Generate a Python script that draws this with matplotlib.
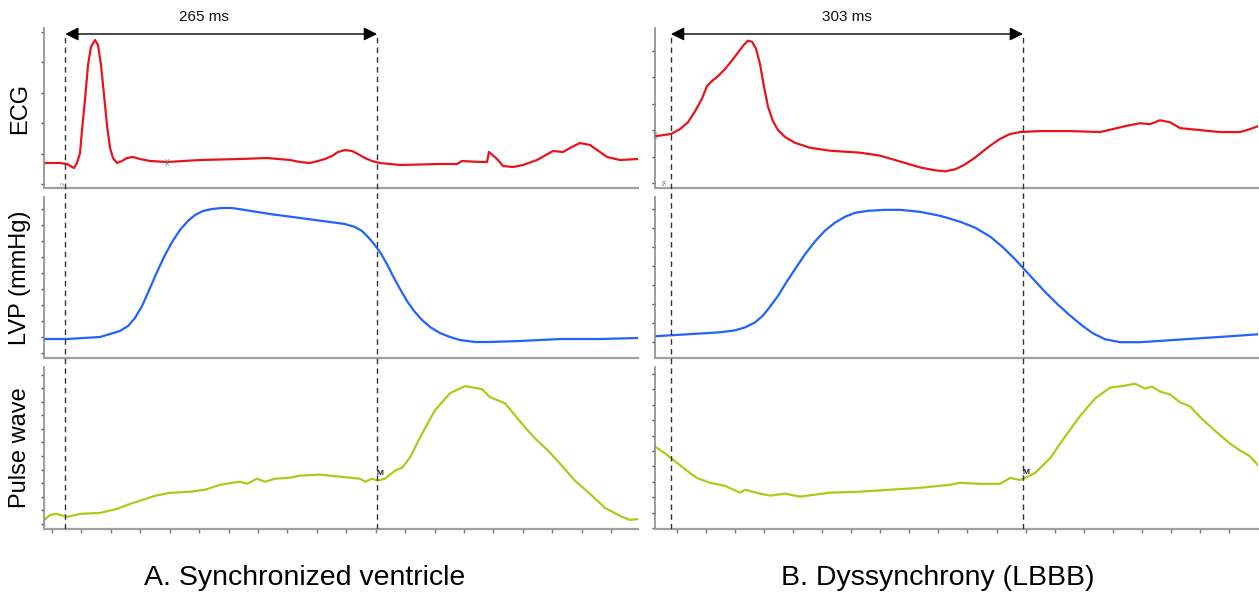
import matplotlib.pyplot as plt
import numpy as np

plt.rcParams['font.family'] = ['Liberation Sans', 'DejaVu Sans']

# ---- data (time in ms, amplitude in arbitrary units above trace floor) ----
# A. synchronized ventricle
ecg_a_t = [0.0, 13.6, 19.5, 25.5, 28.0, 30.6, 32.3, 34.8, 37.4, 39.9, 43.3, 45.9, 48.4, 51.0,
           53.5, 56.1, 58.6, 62.0, 66.3, 70.5, 75.6, 81.6, 90.1, 104.5, 132.5, 166.5, 189.5,
           209.0, 217.5, 226.0, 232.8, 238.7, 244.7, 249.8, 255.7, 261.7, 266.8, 272.7, 278.7,
           285.5, 302.5, 336.4, 350.9, 355.1, 370.4, 376.4, 378.1, 384.9, 390.0, 398.5, 407.0,
           418.9, 432.5, 441.0, 446.9, 455.4, 463.9, 472.4, 478.4, 489.4, 504.7]
ecg_a_v = [25, 25, 24, 20, 25, 35, 58, 88, 123, 141, 148, 143, 123, 93,
           63, 40, 30, 25, 27, 30, 31, 29, 27, 26, 28, 29, 30,
           28, 26, 25, 27, 29, 32, 36, 38, 37, 34, 30, 27,
           25, 23, 24, 24, 27, 26, 26, 36, 29, 22, 21, 23,
           28, 37, 36, 40, 45, 43, 36, 31, 28, 29]

lvp_a_t = [0.0, 19.5, 47.6, 56.1, 64.6, 71.4, 77.3, 83.3, 90.1, 96.0, 102.8, 108.8, 115.5,
           122.3, 128.3, 135.1, 142.7, 151.2, 159.7, 170.8, 192.0, 217.5, 243.0, 255.7, 264.2,
           270.2, 275.3, 280.4, 285.5, 291.4, 296.5, 302.5, 308.4, 314.4, 321.2, 328.0, 336.4,
           344.9, 353.4, 366.2, 378.9, 404.4, 438.4, 472.4, 504.7]
lvp_a_v = [19, 19, 21, 24, 27, 32, 40, 52, 70, 86, 103, 116, 128,
           137, 143, 147, 149, 150, 150, 148, 144, 140, 136, 134, 131,
           127, 121, 114, 106, 94, 82, 69, 57, 47, 38, 31, 25,
           21, 18, 16, 16, 17, 19, 19, 20]

pw_a_t = [0.0, 5.1, 11.0, 16.1, 19.5, 30.6, 47.6, 62.0, 73.1, 84.1, 94.3, 107.1, 124.0, 136.8,
          149.5, 166.5, 172.5, 181.0, 187.8, 196.3, 209.0, 217.5, 234.5, 251.5, 268.5, 272.7,
          278.7, 283.8, 289.7, 298.2, 304.2, 311.0, 319.5, 332.2, 345.0, 357.7, 372.1, 378.9,
          391.7, 400.2, 408.7, 417.2, 428.2, 438.4, 451.1, 463.9, 476.6, 489.4, 497.9, 504.7]
pw_a_v = [9, 14, 15, 13, 12, 15, 16, 20, 25, 29, 33, 36, 37, 39,
          44, 47, 45, 50, 47, 50, 51, 53, 54, 52, 50, 47,
          50, 48, 50, 58, 61, 71, 91, 118, 135, 142, 139, 131,
          125, 113, 101, 90, 78, 65, 48, 35, 21, 13, 9, 10]

# B. dyssynchrony (LBBB)
ecg_b_t = [0.0, 1.7, 13.8, 21.5, 28.4, 34.4, 40.4, 44.8, 49.1, 54.2, 60.2, 66.3, 71.4, 76.6,
           80.0, 83.5, 86.9, 90.4, 93.8, 97.2, 101.5, 105.9, 111.9, 120.5, 133.4, 150.6, 176.4,
           193.6, 210.8, 228.1, 241.0, 249.6, 258.2, 266.8, 275.4, 288.3, 296.9, 305.5, 314.1,
           331.3, 357.1, 383.0, 394.1, 404.5, 417.4, 426.0, 434.6, 443.2, 451.8, 469.0, 486.2,
           503.4, 512.0, 518.9]
ecg_b_v = [53, 53, 55, 60, 67, 78, 91, 104, 109, 114, 121, 130, 138, 146,
           150, 149, 142, 126, 103, 83, 68, 59, 52, 46, 41, 38, 36,
           33, 27, 21, 18, 17, 19, 24, 31, 43, 50, 55, 57,
           58, 58, 57, 60, 63, 66, 65, 69, 67, 61, 59, 57,
           57, 60, 63]

lvp_b_t = [0.0, 13.8, 55.9, 68.8, 77.5, 86.1, 92.9, 99.0, 105.9, 112.7, 120.5, 129.1, 137.7,
           146.3, 154.9, 163.5, 172.1, 183.3, 197.9, 210.8, 228.1, 245.3, 262.5, 275.4, 288.3,
           299.5, 309.8, 318.4, 327.0, 335.6, 345.9, 357.1, 367.4, 376.9, 387.2, 400.2, 417.4,
           443.2, 469.0, 494.8, 518.9]
lvp_b_v = [22, 23, 26, 28, 31, 36, 43, 52, 63, 76, 90, 105, 118,
           129, 137, 143, 147, 149, 150, 150, 148, 144, 138, 132, 123,
           112, 100, 89, 78, 67, 55, 43, 33, 25, 19, 16, 16,
           18, 20, 22, 24]

pw_b_t = [0.0, 8.6, 17.2, 30.1, 36.1, 47.3, 60.2, 73.1, 77.5, 90.4, 99.0, 111.9, 124.8, 150.6,
          176.4, 202.2, 228.1, 253.9, 262.5, 279.7, 296.9, 305.5, 314.1, 316.7, 327.0, 339.9,
          352.8, 365.7, 378.7, 391.6, 404.5, 413.1, 421.7, 427.7, 434.6, 443.2, 451.8, 460.4,
          469.0, 481.9, 494.8, 503.4, 512.0, 518.9]
pw_b_v = [84, 77, 69, 57, 52, 47, 44, 37, 40, 36, 34, 36, 33, 37,
          38, 40, 42, 45, 47, 46, 46, 52, 50, 51, 57, 72,
          94, 115, 133, 144, 146, 148, 143, 145, 140, 137, 129, 125,
          114, 100, 87, 80, 74, 65]

interval_a = (18.0, 283.0)   # 265 ms
interval_b = (13.7, 316.7)   # 303 ms
labels_interval = ['265 ms', '303 ms']
row_labels = ['ECG', 'LVP (mmHg)', 'Pulse wave']
panel_titles = ['A. Synchronized ventricle', 'B. Dyssynchrony (LBBB)']

# ---- layout ----
W, H = 1259, 594
fig = plt.figure(figsize=(W / 100, H / 100), dpi=100)

def px_box(x0, x1, y0, y1):
    return [x0 / W, 1 - y1 / H, (x1 - x0) / W, (y1 - y0) / H]

cols = [(44, 638), (655, 1258)]
rows = [(28, 188), (197, 358), (367, 529)]
ylims = [[160, 161, 161], [163, 163, 165]]
ytick = [[(4, 30.5), (5, 16), (5, 13.5)], [(5, 27), (16, 19.3), (1, 15.7)]]
xmax = [504.7, 518.9]
xtick0 = [6.8, 18.9]
colors = ['#e8141c', '#2262ff', '#b3c81a']
series = [[(ecg_a_t, ecg_a_v), (lvp_a_t, lvp_a_v), (pw_a_t, pw_a_v)],
          [(ecg_b_t, ecg_b_v), (lvp_b_t, lvp_b_v), (pw_b_t, pw_b_v)]]
intervals = [interval_a, interval_b]
text_x = [136, 165.3]
title_x = [305, 938]

for c in range(2):
    x0, x1 = cols[c]
    for r in range(3):
        y0, y1 = rows[r]
        ax = fig.add_axes(px_box(x0, x1, y0, y1))
        t, v = series[c][r]
        ax.plot(t, v, color=colors[r], lw=1.6, solid_joinstyle='round')
        ax.set_xlim(0, xmax[c])
        ax.set_ylim(0, ylims[c][r])
        for s in ['top', 'right']:
            ax.spines[s].set_visible(False)
        ax.spines['left'].set_color('#8c8c8c')
        ax.spines['bottom'].set_color('#a0a0a0')
        ax.spines['left'].set_linewidth(1.2)
        ax.spines['bottom'].set_linewidth(1.6)
        st, step = ytick[c][r]
        ax.set_yticks(np.arange(st, ylims[c][r], step))
        ax.tick_params(axis='y', length=2, width=1, color='#555555', labelleft=False)
        if r == 2:
            ax.set_xticks(np.arange(xtick0[c], xmax[c], 25))
            ax.tick_params(axis='x', length=3, width=1, color='#777777', labelbottom=False)
        else:
            ax.set_xticks([])
        ax.patch.set_alpha(0)

        if r == 0:
            # small cursor marks from the recorder software
            if c == 0:
                ax.text(105, 26, ')(', fontsize=6, color='#777777', ha='center', va='center')
                ax.text(intervals[c][0] - 2, 3, '2', fontsize=4, color='#777777',
                        rotation=90, ha='center', va='bottom')
            else:
                ax.text(0.5, 53, ')(', fontsize=6, color='#777777', ha='center', va='center')
                ax.text(intervals[c][0] - 5, 3, '54', fontsize=4, color='#777777',
                        rotation=90, ha='center', va='bottom')
        if r == 2:
            tm = intervals[c][1]
            vm = np.interp(tm, t, v)
            ax.text(tm + 2.5, vm + 3, 'M', fontsize=6, color='#222222', ha='center',
                    va='bottom', fontweight='bold')

    # dashed markers and the interval arrow across the three traces
    ov = fig.add_axes(px_box(x0, x1, 34, 529))
    ov.set_xlim(0, xmax[c])
    ov.set_ylim(0, 1)
    ov.axis('off')
    ta, tb = intervals[c]
    for tx in (ta, tb):
        ov.axvline(tx, 0, 1, color='#333333', lw=1.0, ls=(0, (4, 3)))
    ov.annotate('', xy=(tb, 1), xytext=(ta, 1),
                arrowprops=dict(arrowstyle='<|-|>', color='black', lw=1.0,
                                mutation_scale=20, shrinkA=0, shrinkB=0))
    ov.text(text_x[c], 1.035, labels_interval[c], fontsize=11, ha='center',
            va='center', color='#111111')

    fig.text(title_x[c] / W, 1 - 578 / H, panel_titles[c],
             fontsize=20.5, ha='center', va='center')

for r, (y0, y1) in enumerate(rows):
    fig.text(20 / W, 1 - (y0 + y1) / 2 / H, row_labels[r], fontsize=17, rotation=90,
             ha='center', va='center')

fig.savefig('out.png', dpi=100, facecolor='white')
